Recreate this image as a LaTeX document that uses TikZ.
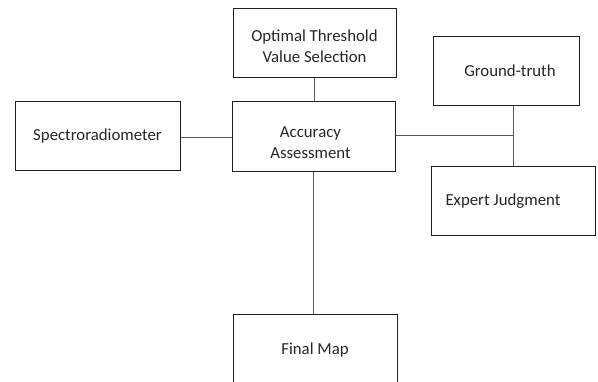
\documentclass[tikz,border=0pt]{standalone}
\usepackage{fontspec}
\setmainfont{Carlito}
\begin{document}
\begin{tikzpicture}[x=1pt,y=-1pt,
  box/.style={draw=black!88, line width=1pt, rectangle, inner sep=0pt},
  txt/.style={align=center, inner sep=0pt, text=black!85, font=\fontsize{16.8}{21}\selectfont},
  conn/.style={draw=black!65, line width=1pt}]
\useasboundingbox (0,0) rectangle (598,382);
\begin{scope}
\clip (0,0) rectangle (598,382);
\node[box, minimum width=163pt, minimum height=69pt,
  label={[txt, yshift=-3pt]center:Optimal Threshold\\Value Selection}] (opt) at (314.5,43.5) {};
\node[box, minimum width=163pt, minimum height=70pt,
  label={[txt, xshift=-3pt, yshift=-6pt]center:Accuracy\\Assessment}] (acc) at (313.5,137) {};
\node[box, minimum width=165pt, minimum height=69pt,
  label={[txt]center:Spectroradiometer}] (spec) at (97.5,136.5) {};
\node[box, minimum width=146pt, minimum height=69pt,
  label={[txt, xshift=4pt, yshift=1pt]center:Ground-truth}] (gt) at (506,71.5) {};
\node[box, minimum width=164pt, minimum height=69pt,
  label={[txt, xshift=-10pt]center:Expert Judgment}] (exp) at (513,201.5) {};
\node[box, minimum width=164pt, minimum height=70pt,
  label={[txt]center:Final Map}] (fin) at (315,350) {};
\coordinate (j) at (513,136);
\draw[conn] (opt.south -| 314,0) -- (acc.north -| 314,0);
\draw[conn] (spec.east |- 0,138) -- (acc.west |- 0,138);
\draw[conn] (acc.east |- j) -- (j);
\draw[conn] (gt.south -| j) -- (exp.north -| j);
\draw[conn] (acc.south -| 313,0) -- (fin.north -| 313,0);
\end{scope}
\end{tikzpicture}
\end{document}
